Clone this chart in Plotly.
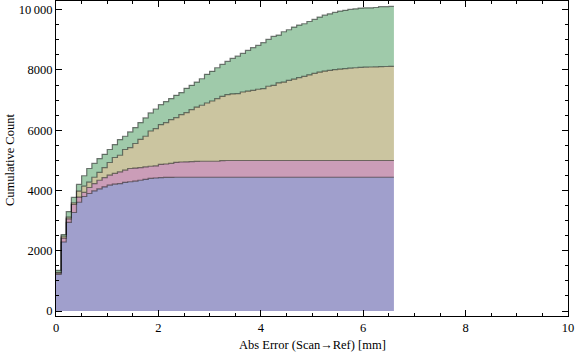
import numpy as np
import plotly.graph_objects as go

# ---- data (cumulative counts, stacked tops per bin of width 0.1 mm) ----
bin_width = 0.1

blue_top = [1215, 2290, 2940, 3270, 3610, 3800, 3900, 3990, 4055, 4120,
            4175, 4210, 4230, 4270, 4290, 4310, 4340, 4370, 4400, 4415,
            4430, 4435, 4435] + [4440] * 43

pink_top = [1255, 2420, 3060, 3535, 3780, 3935, 4100, 4230, 4340, 4430,
            4510, 4565, 4620, 4675, 4730, 4745, 4760, 4785, 4805, 4820,
            4870, 4880, 4900, 4935, 4945, 4950, 4960, 4965, 4970, 4970,
            4970, 4970, 4990] + [4995] * 33

tan_top = [1285, 2485, 3115, 3590, 3980, 4145, 4275, 4440, 4600, 4760,
           4930, 5095, 5170, 5360, 5425, 5560, 5700, 5800, 5975, 6055,
           6185, 6255, 6355, 6420, 6520, 6585, 6685, 6770, 6830, 6905,
           6970, 7050, 7125, 7180, 7205, 7215, 7270, 7300, 7325, 7360,
           7380, 7460, 7490, 7570, 7600, 7655, 7700, 7745, 7790, 7835,
           7890, 7930, 7965, 7990, 8010, 8030, 8045, 8060, 8075, 8085,
           8095, 8100, 8105, 8110, 8115, 8120]

green_top = [1350, 2540, 3300, 3770, 4200, 4490, 4730, 4900, 5060, 5200,
             5360, 5525, 5690, 5800, 5945, 6090, 6255, 6410, 6575, 6705,
             6850, 6950, 7050, 7160, 7250, 7390, 7490, 7600, 7710, 7855,
             7955, 8075, 8185, 8285, 8385, 8460, 8550, 8650, 8740, 8815,
             8905, 9015, 9115, 9160, 9270, 9335, 9425, 9490, 9535, 9610,
             9680, 9755, 9820, 9865, 9910, 9955, 9980, 10010, 10030, 10055,
             10065, 10065, 10075, 10100, 10100, 10110]

x_tick_vals = [0, 2, 4, 6, 8, 10]
y_tick_vals = [0, 2000, 4000, 6000, 8000, 10000]
y_tick_text = ["0", "2000", "4000", "6000", "8000", "10\u2009000"]

x_title = "Abs Error (Scan\u2192Ref) [mm]"
y_title = "Cumulative Count"

fill_colors = ["#a09fcc", "#cb9db8", "#cbc5a0", "#9fcaaa"]

# ---- figure ----
n = len(blue_top)
edges = np.arange(n + 1) * bin_width

fig = go.Figure()
for i, (vals, col) in enumerate(zip([blue_top, pink_top, tan_top, green_top], fill_colors)):
    fig.add_trace(go.Scatter(
        x=edges, y=list(vals) + [vals[-1]],
        mode="lines",
        line=dict(shape="hv", color="rgba(0,0,0,0.5)", width=1.2),
        fill="tozeroy" if i == 0 else "tonexty",
        fillcolor=col,
        hoverinfo="skip",
        showlegend=False,
    ))

font = dict(family="Liberation Serif, Times New Roman, serif", size=12.5, color="black")

fig.update_layout(
    width=576, height=357,
    margin=dict(l=56, r=8, t=1, b=41, autoexpand=False),
    paper_bgcolor="white", plot_bgcolor="white",
    font=font,
    showlegend=False,
)
fig.update_xaxes(
    range=[0, 10], tickvals=x_tick_vals, automargin=False,
    showline=True, linecolor="black", linewidth=1, mirror="ticks",
    ticks="inside", ticklen=6, tickcolor="black", tickwidth=1,
    minor=dict(dtick=0.5, ticks="inside", ticklen=3, tickcolor="black", tickwidth=1),
    showgrid=False, zeroline=False,
)
fig.update_yaxes(
    range=[-166, 10290], tickvals=y_tick_vals, ticktext=y_tick_text, automargin=False,
    showline=True, linecolor="black", linewidth=1, mirror="ticks",
    ticks="inside", ticklen=6, tickcolor="black", tickwidth=1,
    minor=dict(dtick=500, ticks="inside", ticklen=3, tickcolor="black", tickwidth=1),
    showgrid=False, zeroline=False,
)
fig.add_annotation(text=x_title, xref="paper", yref="paper", x=0.5, y=-0.092,
                   xanchor="center", yanchor="middle", showarrow=False, font=font)
fig.add_annotation(text=y_title, xref="paper", yref="paper", x=-0.0898, y=0.495,
                   xanchor="center", yanchor="middle", textangle=-90, showarrow=False, font=font)

fig.write_html(
    "out.html",
    config={"displayModeBar": False},
    post_script="document.body.style.margin='0';document.body.style.padding='0';"
                "document.body.style.overflow='hidden';",
)
